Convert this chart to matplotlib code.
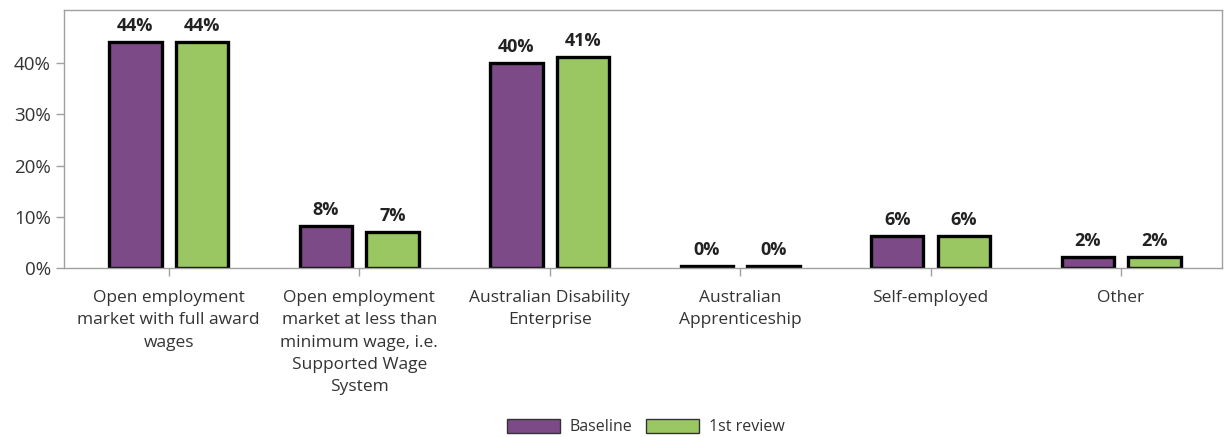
import matplotlib.pyplot as plt
import numpy as np

categories = [
    "Open employment\nmarket with full award\nwages",
    "Open employment\nmarket at less than\nminimum wage, i.e.\nSupported Wage\nSystem",
    "Australian Disability\nEnterprise",
    "Australian\nApprenticeship",
    "Self-employed",
    "Other",
]
baseline = [44.1, 8.2, 40.0, 0.4, 6.3, 2.2]
review = [44.1, 7.1, 41.2, 0.4, 6.3, 2.2]
series_names = ["Baseline", "1st review"]
yticks = [0, 10, 20, 30, 40]

PURPLE = "#7c4a87"
GREEN = "#9bc762"
GRAY = "#a0a0a0"

plt.rcParams["font.family"] = ["Open Sans", "DejaVu Sans"]

fig = plt.figure(figsize=(12.25, 4.37), dpi=100)
ax = fig.add_axes([64 / 1225, 1 - 268 / 437, (1222 - 64) / 1225, (268 - 10) / 437])

x = np.arange(len(categories))
w = 0.275
off = 0.175
for vals, dx, color, name in [
    (baseline, -off, PURPLE, series_names[0]),
    (review, off, GREEN, series_names[1]),
]:
    bars = ax.bar(x + dx, vals, width=w, color=color, edgecolor="black",
                  linewidth=2.4, label=name)
    for b, v in zip(bars, vals):
        ax.annotate(f"{v:.0f}%", (b.get_x() + b.get_width() / 2, v),
                    xytext=(0, 5), textcoords="offset points",
                    ha="center", va="bottom", fontsize=13, fontweight="bold",
                    color="#222222")

ax.set_xlim(-0.55, 5.53)
ax.set_ylim(0, 50.4)
ax.set_yticks(yticks)
ax.set_yticklabels([f"{t}%" for t in yticks], fontsize=13.5)
ax.set_xticks(x)
ax.set_xticklabels(categories, linespacing=1.52, fontsize=12.5)

for s in ax.spines.values():
    s.set_color(GRAY)
    s.set_linewidth(1)
ax.tick_params(axis="both", colors=GRAY, labelcolor="#333333",
               length=6, width=1)
ax.tick_params(axis="x", pad=10)

leg = fig.legend(loc="center", bbox_to_anchor=(0.527, 0.023), ncol=2,
                 frameon=False, fontsize=11.5, handlelength=3.3,
                 handleheight=1.0, columnspacing=0.9, handletextpad=0.6)
for h in leg.legend_handles:
    h.set_linewidth(1)
    h.set_edgecolor("#333333")
for t in leg.get_texts():
    t.set_color("#333333")

fig.savefig("out.png", dpi=100)
